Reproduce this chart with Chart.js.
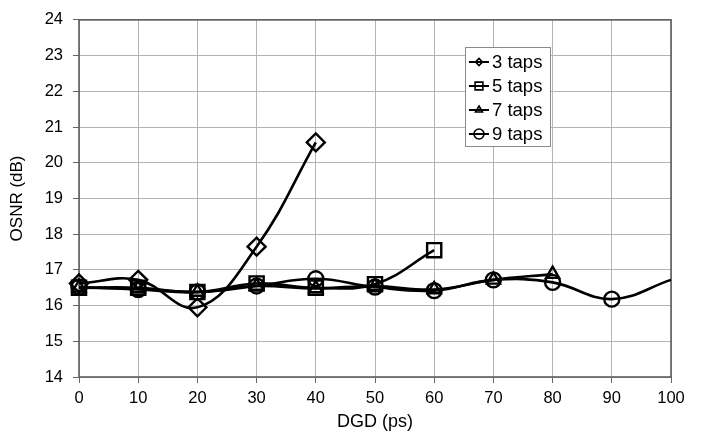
<!DOCTYPE html>
<html>
<head>
<meta charset="utf-8">
<script src="https://cdn.jsdelivr.net/npm/chart.js@4/dist/chart.umd.min.js"></script>
<style>
  html, body { margin: 0; padding: 0; background: #fff; }
  #wrap { width: 702px; height: 438px; position: relative; }
</style>
</head>
<body>
<div id="wrap"><canvas id="c" width="702" height="438"></canvas></div>
<script>
// ---- data ----
const dgd = [0, 10, 20, 30, 40, 50, 60, 70, 80, 90, 100];
const taps3 = [16.62, 16.72, 15.95, 17.65, 20.57];
const taps5 = [16.50, 16.50, 16.38, 16.62, 16.50, 16.60, 17.55];
const taps7 = [16.50, 16.48, 16.38, 16.55, 16.48, 16.55, 16.45, 16.72, 16.88];
const taps9 = [16.52, 16.45, 16.38, 16.55, 16.75, 16.52, 16.42, 16.72, 16.65, 16.18, 16.72];
const seriesNames = ['3 taps', '5 taps', '7 taps', '9 taps'];
const yTicks = [14, 15, 16, 17, 18, 19, 20, 21, 22, 23, 24];

const FONT = "'Liberation Sans', Arial, sans-serif";

function toXY(vals) { return vals.map((v, i) => ({ x: dgd[i], y: v })); }

const styles = [
  { pointStyle: 'rectRot', radius: 9, legendRadius: 3.5 },
  { pointStyle: 'rect', radius: 10, legendRadius: 5.5 },
  { pointStyle: 'triangle', radius: 7.5, legendRadius: 4 },
  { pointStyle: 'circle', radius: 7.5, legendRadius: 5 }
];
const seriesData = [taps3, taps5, taps7, taps9];

const datasets = seriesData.map((vals, k) => ({
  label: seriesNames[k],
  data: toXY(vals),
  borderColor: '#000',
  borderWidth: 2.6,
  backgroundColor: '#fff',
  pointStyle: styles[k].pointStyle,
  pointRadius: vals.map((v, i) => (k === 3 && dgd[i] === 100) ? 0 : styles[k].radius),
  pointBorderWidth: 2.4,
  pointBorderColor: '#000',
  pointBackgroundColor: 'rgba(255,255,255,0)',
  tension: 0.4,
  fill: false,
  clip: false,
  order: 4 - k
}));

const legendPlugin = {
  id: 'boxLegend',
  afterDraw(chart) {
    const ctx = chart.ctx;
    const x0 = 465, y0 = 47, w = 85, h = 99;
    ctx.save();
    ctx.fillStyle = '#fff';
    ctx.fillRect(x0, y0, w, h);
    ctx.strokeStyle = '#8a8a8a';
    ctx.lineWidth = 1;
    ctx.strokeRect(x0 + 0.5, y0 + 0.5, w, h);
    ctx.font = '18.5px ' + FONT;
    ctx.textBaseline = 'middle';
    for (let k = 0; k < seriesNames.length; k++) {
      const cy = y0 + 15 + k * 24;
      ctx.strokeStyle = '#000';
      ctx.lineWidth = 2;
      ctx.beginPath();
      ctx.moveTo(x0 + 4, cy);
      ctx.lineTo(x0 + 24, cy);
      ctx.stroke();
      ctx.fillStyle = 'rgba(255,255,255,0)';
      ctx.strokeStyle = '#000';
      ctx.lineWidth = 1.6;
      Chart.helpers.drawPoint(ctx, {
        pointStyle: styles[k].pointStyle,
        radius: styles[k].legendRadius,
        borderWidth: 1.6
      }, x0 + 14, cy);
      ctx.fillStyle = '#000';
      ctx.fillText(seriesNames[k], x0 + 27, cy + 1);
    }
    ctx.restore();
  }
};

const borderPlugin = {
  id: 'plotBorder',
  beforeDatasetsDraw(chart) {
    const a = chart.chartArea, ctx = chart.ctx;
    ctx.save();
    ctx.strokeStyle = '#555';
    ctx.lineWidth = 1.5;
    ctx.strokeRect(a.left, a.top, a.right - a.left, a.bottom - a.top);
    ctx.restore();
  }
};

new Chart(document.getElementById('c'), {
  type: 'line',
  data: { datasets },
  plugins: [borderPlugin, legendPlugin],
  options: {
    responsive: false,
    animation: false,
    devicePixelRatio: 1,
    layout: { padding: { left: 0, right: 31, top: 12, bottom: 0 } },
    plugins: { legend: { display: false }, tooltip: { enabled: false } },
    scales: {
      x: {
        type: 'linear',
        min: 0, max: 100,
        afterFit(scale) { scale.height = 61; },
        afterBuildTicks(scale) { scale.ticks = dgd.map(v => ({ value: v })); },
        grid: { color: '#b4b4b4', lineWidth: 1, tickLength: 6, tickColor: '#666', drawOnChartArea: true },
        border: { display: false },
        ticks: { font: { family: FONT, size: 16.5 }, color: '#000', padding: 6, maxRotation: 0 },
        title: { display: true, text: 'DGD (ps)', font: { family: FONT, size: 18 }, color: '#000', padding: { top: 4, bottom: 5 } }
      },
      y: {
        type: 'linear',
        min: 14, max: 24,
        afterFit(scale) { scale.width = 79; },
        afterBuildTicks(scale) { scale.ticks = yTicks.map(v => ({ value: v })); },
        grid: { color: '#b4b4b4', lineWidth: 1, tickLength: 6, tickColor: '#666' },
        border: { display: false },
        ticks: { font: { family: FONT, size: 16.5 }, color: '#000', padding: 10 },
        title: { display: true, text: 'OSNR (dB)', font: { family: FONT, size: 17 }, color: '#000', padding: { top: 7, bottom: 4 } }
      }
    }
  }
});
</script>
</body>
</html>
